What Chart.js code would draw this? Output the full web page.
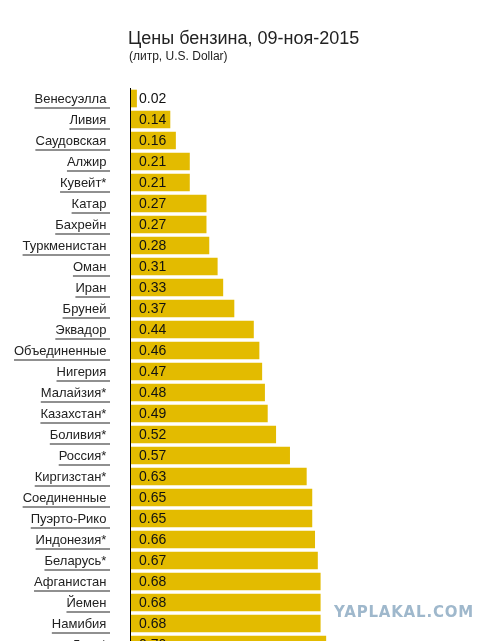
<!DOCTYPE html>
<html><head><meta charset="utf-8">
<script src="https://cdn.jsdelivr.net/npm/chart.js@4"></script>
<style>
body{margin:0;overflow:hidden;background:#fff;font-family:"Liberation Sans",Arial,sans-serif}
#wrap{position:relative;width:497px;height:641px;overflow:hidden}
#title{position:absolute;left:128px;top:28px;font-size:18px;color:#222}
#sub{position:absolute;left:129px;top:49px;font-size:12px;color:#222}
#wm{position:absolute;left:334px;top:603px;font-size:15px;font-weight:bold;color:#9fb8cc;letter-spacing:0.8px;font-family:"DejaVu Sans",sans-serif}
canvas{position:absolute;left:0;top:0}
</style></head><body>
<div id="wrap">
<canvas id="c" width="497" height="655"></canvas>
<div id="title">Цены бензина, 09-ноя-2015</div>
<div id="sub">(литр, U.S. Dollar)</div>
<div id="wm">YAPLAKAL.COM</div>
</div>
<script>
const countries = ["Венесуэлла","Ливия","Саудовская","Алжир","Кувейт*","Катар","Бахрейн","Туркменистан","Оман","Иран","Бруней","Эквадор","Объединенные","Нигерия","Малайзия*","Казахстан*","Боливия*","Россия*","Киргизстан*","Соединенные","Пуэрто-Рико","Индонезия*","Беларусь*","Афганистан","Йемен","Намибия","Лаос*"];
const prices = [0.02,0.14,0.16,0.21,0.21,0.27,0.27,0.28,0.31,0.33,0.37,0.44,0.46,0.47,0.48,0.49,0.52,0.57,0.63,0.65,0.65,0.66,0.67,0.68,0.68,0.68,0.70];

const labelsPlugin = {
  id: "labels",
  afterDatasetsDraw(chart) {
    const ctx = chart.ctx, meta = chart.getDatasetMeta(0), x0 = chart.scales.x.getPixelForValue(0);
    ctx.save();
    ctx.textBaseline = "middle";
    meta.data.forEach((bar, i) => {
      ctx.font = "14px 'Liberation Sans', Arial, sans-serif";
      ctx.fillStyle = "#111";
      ctx.textAlign = "left";
      ctx.fillText(prices[i].toFixed(2), x0 + 8, bar.y + 1);
      ctx.font = "13px 'Liberation Sans', Arial, sans-serif";
      ctx.fillStyle = "#222";
      ctx.textAlign = "right";
      const t = countries[i] + " ";
      ctx.fillText(t, 110, bar.y + 1);
      const w = ctx.measureText(t).width;
      ctx.fillRect(110 - w, bar.y + 9, w, 1);
    });
    ctx.fillStyle = "#000";
    ctx.fillRect(x0 - 1, chart.chartArea.top, 1, chart.chartArea.bottom - chart.chartArea.top);
    ctx.restore();
  }
};

new Chart(document.getElementById("c"), {
  type: "bar",
  data: { labels: countries, datasets: [{ data: prices, backgroundColor: "#e3bb00", barThickness: 17, borderWidth: 0 }] },
  options: {
    indexAxis: "y",
    responsive: false,
    animation: false,
    layout: { padding: { left: 131, top: 88, right: 0, bottom: 0 } },
    plugins: { legend: { display: false }, tooltip: { enabled: false } },
    scales: {
      x: { display: false, min: 0, max: 1.315 },
      y: { display: false }
    }
  },
  plugins: [labelsPlugin]
});
</script>
</body></html>
